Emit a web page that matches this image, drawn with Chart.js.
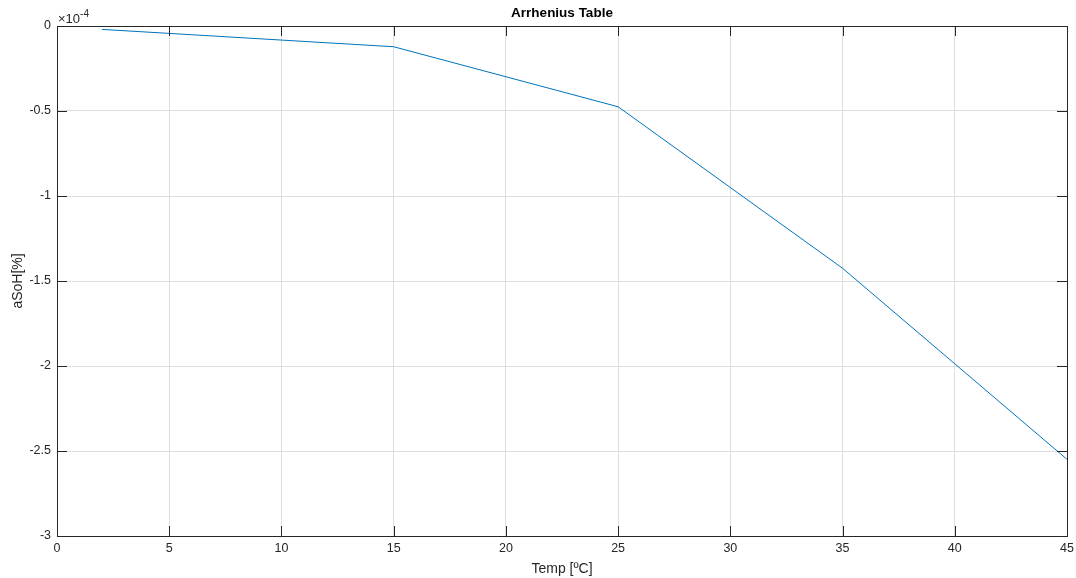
<!DOCTYPE html>
<html>
<head>
<meta charset="utf-8">
<script src="https://cdn.jsdelivr.net/npm/chart.js@4"></script>
<style>
  html,body{margin:0;padding:0;background:#fff;}
  #wrap{width:1076px;height:578px;position:relative;}
</style>
</head>
<body>
<div id="wrap"><canvas id="c" width="1076" height="578"></canvas></div>
<script>
// Arrhenius table data (aSoH in units of 1e-4 %)
const temps = [2, 15, 25, 35, 45];
const asoh  = [-0.02, -0.122, -0.475, -1.425, -2.549];
const xTicks = [0, 5, 10, 15, 20, 25, 30, 35, 40, 45];
const yTicks = [0, -0.5, -1, -1.5, -2, -2.5, -3];

const FONT = '"Liberation Sans", Arial, Helvetica, sans-serif';
const AXC = '#262626';

// inward ticks on all four sides + box + exponent label
const matlabBox = {
  id: 'matlabBox',
  afterDraw(chart){
    const {ctx, chartArea:a, scales:{x, y}} = chart;
    ctx.save();
    ctx.strokeStyle = AXC; ctx.lineWidth = 1;
    ctx.beginPath();
    xTicks.forEach(v=>{
      const px = Math.round(x.getPixelForValue(v)) + .5;
      ctx.moveTo(px, a.bottom); ctx.lineTo(px, a.bottom - 10);
      ctx.moveTo(px, a.top); ctx.lineTo(px, a.top + 10);
    });
    yTicks.forEach(v=>{
      const py = Math.round(y.getPixelForValue(v)) + .5;
      ctx.moveTo(a.left, py); ctx.lineTo(a.left + 10, py);
      ctx.moveTo(a.right, py); ctx.lineTo(a.right - 10, py);
    });
    ctx.stroke();
    ctx.strokeRect(Math.round(a.left)+.5, Math.round(a.top)+.5, Math.round(a.right-a.left), Math.round(a.bottom-a.top));
    // exponent
    ctx.fillStyle = AXC;
    ctx.textBaseline = 'alphabetic';
    ctx.font = '13px ' + FONT;
    ctx.fillText('\u00d710', a.left + 1, 23);
    const w = ctx.measureText('\u00d710').width;
    ctx.font = '10px ' + FONT;
    ctx.fillText('-4', a.left + 1 + w, 17);
    ctx.restore();
  }
};

new Chart(document.getElementById('c'), {
  type: 'line',
  data: {
    datasets: [{
      data: temps.map((t,i)=>({x:t, y:asoh[i]})),
      borderColor: '#0072BD',
      borderWidth: 1,
      pointRadius: 0,
      tension: 0,
      fill: false
    }]
  },
  options: {
    responsive: false,
    animation: false,
    layout: { padding: { right: 9, left: 0, bottom: 0 } },
    plugins: {
      legend: { display: false },
      tooltip: { enabled: false },
      title: {
        display: true,
        fullSize: false,
        text: 'Arrhenius Table',
        color: '#000',
        font: { family: FONT, size: 13.5, weight: 'bold', lineHeight: 1.2 },
        padding: { top: 5, bottom: 4.8 }
      }
    },
    scales: {
      x: {
        type: 'linear', min: 0, max: 45,
        afterBuildTicks: s => { s.ticks = xTicks.map(v=>({value:v})); },
        afterFit: s => { s.height = 42; s.paddingRight = 0; s.paddingLeft = 0; },
        grid: { color: '#dedede', drawTicks: false },
        border: { display: false },
        ticks: { color: AXC, padding: 5, maxRotation: 0, font: { family: FONT, size: 12.5 } },
        title: { display: true, text: 'Temp [\u00baC]', color: AXC, padding: { top: 1, bottom: 0 }, font: { family: FONT, size: 14 } }
      },
      y: {
        type: 'linear', min: -3, max: 0,
        afterBuildTicks: s => { s.ticks = yTicks.map(v=>({value:v})); },
        afterFit: s => { s.width = 57; },
        grid: { color: '#dedede', drawTicks: false },
        border: { display: false },
        ticks: { color: AXC, padding: 6, font: { family: FONT, size: 12.5 }, callback: v => String(v) },
        title: { display: true, text: 'aSoH[%]', color: AXC, padding: { top: 10, bottom: 4 }, font: { family: FONT, size: 14 } }
      }
    }
  },
  plugins: [matlabBox]
});
</script>
</body>
</html>
